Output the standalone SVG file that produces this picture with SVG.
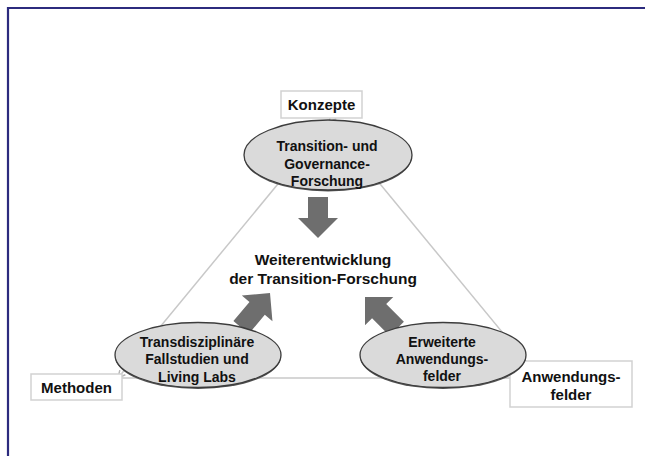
<svg xmlns="http://www.w3.org/2000/svg" width="645" height="456" viewBox="0 0 645 456">
<defs>
<style>
text{font-family:"Liberation Sans",Arial,sans-serif;font-weight:bold;fill:#111;text-anchor:middle}
.lbl{font-size:15px}
.ell{font-size:14px}
.ctr{font-size:15.5px}
.box{fill:#fff;stroke:#d2d2d2;stroke-width:1.5}
.oval{fill:#dadada;stroke:#3c3c3c;stroke-width:1.3}
.shadow{fill:#555}
.tri{stroke:#c8c8c8;stroke-width:1.5;fill:none}
.blk{fill:#6e6e6e}
</style>
<marker id="chev" viewBox="0 0 10 10" refX="9" refY="5" markerWidth="6" markerHeight="6" orient="auto">
<path d="M1,1 L9,5 L1,9" fill="none" stroke="#b5b5b5" stroke-width="1.6"/>
</marker>
<path id="barrow" d="M0,0 L20,20 L10,20 L10,45 L-10,45 L-10,20 L-20,20 Z"/>
</defs>
<rect width="645" height="456" fill="#fff"/>
<path d="M8,456 L8,8 L645,8" fill="none" stroke="#2c2b7e" stroke-width="2.2"/>

<g id="connectors">
<line class="tri" x1="329" y1="122" x2="118" y2="378" marker-start="url(#chev)" marker-end="url(#chev)"/>
<line class="tri" x1="118" y1="378" x2="540" y2="378"/>
<line class="tri" x1="329" y1="122" x2="540" y2="378"/>
<path class="blk" d="M318,238 L338,218 L328,218 L328,197 L308,197 L308,218 L298,218 Z"/>
<use href="#barrow" class="blk" transform="translate(270,293) rotate(40)"/>
<use href="#barrow" class="blk" transform="translate(365,297) rotate(-45)"/>
</g>

<g id="konzepte">
<rect class="box" x="281" y="91" width="81" height="27"/>
<text class="lbl" x="321.5" y="110">Konzepte</text>
</g>

<g id="methoden">
<rect class="box" x="31" y="374" width="91" height="26"/>
<text class="lbl" x="76.5" y="393">Methoden</text>
</g>

<g id="anwendungsfelder">
<rect class="box" x="510" y="361" width="122" height="46"/>
<text class="lbl" x="571" y="382">Anwendungs-</text>
<text class="lbl" x="571" y="400">felder</text>
</g>

<g id="transition-governance">
<ellipse class="shadow" cx="328" cy="156.5" rx="84" ry="35"/>
<ellipse class="oval" cx="328" cy="155" rx="84" ry="35"/>
<text class="ell" x="327" y="151">Transition- und</text>
<text class="ell" x="327" y="169">Governance-</text>
<text class="ell" x="327" y="186">Forschung</text>
</g>

<g id="zentrum">
<text class="ctr" x="323" y="265">Weiterentwicklung</text>
<text class="ctr" x="323" y="284">der Transition-Forschung</text>
</g>

<g id="transdisziplinaer">
<ellipse class="shadow" cx="198" cy="356.5" rx="83" ry="32.5"/>
<ellipse class="oval" cx="198" cy="355" rx="83" ry="32.5"/>
<text class="ell" x="197" y="347">Transdisziplinäre</text>
<text class="ell" x="197" y="364">Fallstudien und</text>
<text class="ell" x="197" y="382">Living Labs</text>
</g>

<g id="erweiterte">
<ellipse class="shadow" cx="443" cy="356.5" rx="83" ry="32.5"/>
<ellipse class="oval" cx="443" cy="355" rx="83" ry="32.5"/>
<text class="ell" x="442" y="347">Erweiterte</text>
<text class="ell" x="442" y="364">Anwendungs-</text>
<text class="ell" x="442" y="381">felder</text>
</g>
</svg>
